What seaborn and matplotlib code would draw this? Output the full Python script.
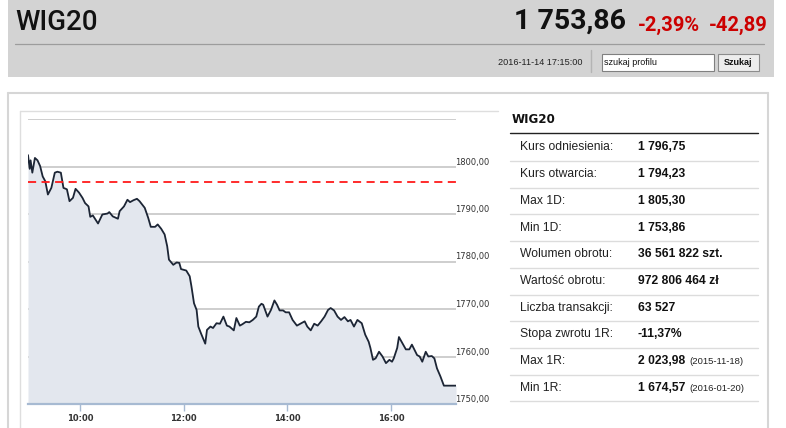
import numpy as np
import pandas as pd
import matplotlib
matplotlib.use('Agg')
import matplotlib.pyplot as plt
import seaborn as sns
from matplotlib import font_manager as fm
from matplotlib.patches import Rectangle
import matplotlib.transforms as mtransforms

# WIG20 intraday, 2016-11-14
times = [
    "09:00", "09:02", "09:03", "09:05", "09:08", "09:11", "09:14", "09:17", "09:20", "09:23",
    "09:27", "09:31", "09:34", "09:38", "09:41", "09:45", "09:48", "09:52", "09:55", "09:59",
    "10:03", "10:06", "10:10", "10:12", "10:15", "10:21", "10:26", "10:32", "10:34", "10:38",
    "10:44", "10:46", "10:51", "10:55", "10:58", "11:02", "11:06", "11:09", "11:15", "11:19",
    "11:22", "11:27", "11:30", "11:34", "11:38", "11:41", "11:43", "11:48", "11:52", "11:55",
    "11:57", "12:03", "12:07", "12:09", "12:12", "12:15", "12:17", "12:20", "12:25", "12:27",
    "12:31", "12:34", "12:38", "12:42", "12:46", "12:50", "12:53", "12:58", "13:01", "13:05",
    "13:08", "13:12", "13:16", "13:20", "13:24", "13:27", "13:30", "13:32", "13:37", "13:41",
    "13:45", "13:48", "13:51", "13:55", "13:58", "14:02", "14:06", "14:11", "14:16", "14:20",
    "14:23", "14:27", "14:31", "14:35", "14:39", "14:43", "14:47", "14:50", "14:54", "14:58",
    "15:02", "15:06", "15:10", "15:13", "15:17", "15:21", "15:26", "15:30", "15:34", "15:36",
    "15:39", "15:42", "15:46", "15:50", "15:54", "15:58", "16:01", "16:03", "16:07", "16:09",
    "16:13", "16:17", "16:21", "16:24", "16:27", "16:30", "16:33", "16:36", "16:40", "16:43",
    "16:47", "16:50", "16:53", "16:57", "17:01", "17:15",
]
prices = [
    1802.4, 1799.5, 1801.3, 1798.7, 1801.8, 1801.3, 1800.1, 1797.9, 1796.9, 1794.1,
    1795.5, 1798.7, 1798.9, 1798.7, 1795.5, 1795.2, 1792.7, 1793.4, 1795.3, 1794.5,
    1793.4, 1792.3, 1791.6, 1789.4, 1789.7, 1788.0, 1789.9, 1790.1, 1790.4, 1789.5,
    1789.0, 1790.6, 1791.6, 1793.0, 1792.5, 1792.9, 1793.2, 1792.7, 1791.3, 1789.2,
    1787.3, 1787.3, 1787.8, 1786.9, 1785.7, 1783.2, 1780.4, 1779.3, 1779.8, 1779.7,
    1778.4, 1778.1, 1776.9, 1774.8, 1771.2, 1769.8, 1766.3, 1764.9, 1762.7, 1765.6,
    1766.3, 1766.0, 1767.0, 1766.9, 1768.4, 1766.5, 1766.3, 1765.5, 1768.1, 1766.5,
    1766.8, 1767.3, 1767.2, 1767.7, 1768.4, 1770.5, 1771.1, 1770.9, 1768.4, 1769.8,
    1771.8, 1770.9, 1769.7, 1769.7, 1769.3, 1769.3, 1767.7, 1766.5, 1767.0, 1767.4,
    1766.3, 1765.5, 1766.9, 1766.5, 1767.4, 1768.4, 1769.8, 1770.2, 1769.7, 1768.4,
    1767.7, 1768.3, 1767.4, 1767.7, 1766.3, 1767.7, 1767.0, 1764.6, 1763.1, 1761.8,
    1759.3, 1759.6, 1761.0, 1760.0, 1758.6, 1759.3, 1758.9, 1759.6, 1761.8, 1764.1,
    1762.8, 1761.5, 1761.5, 1762.5, 1761.4, 1760.3, 1760.0, 1758.9, 1761.0, 1760.0,
    1760.1, 1759.6, 1757.5, 1755.8, 1753.86, 1753.86,
]
ref_price = 1796.75
y_grid = [1760, 1770, 1780, 1790, 1800, 1810]
y_labels = [1750, 1760, 1770, 1780, 1790, 1800]
x_ticks = ["10:00", "12:00", "14:00", "16:00"]
session = ["09:00", "17:15"]

# header
index_name = "WIG20"
last_txt = "1 753,86"
chg_pct_txt = "-2,39%"
chg_txt = "-42,89"
stamp_txt = "2016-11-14 17:15:00"

# side table
row_labels = ["Kurs odniesienia:", "Kurs otwarcia:", "Max 1D:", "Min 1D:", "Wolumen obrotu:",
              "Wartość obrotu:", "Liczba transakcji:", "Stopa zwrotu 1R:", "Max 1R:", "Min 1R:"]
row_values = ["1 796,75", "1 794,23", "1 805,30", "1 753,86", "36 561 822 szt.",
              "972 806 464 zł", "63 527", "-11,37%", "2 023,98", "1 674,57"]
row_notes = ["", "", "", "", "", "", "", "", "(2015-11-18)", "(2016-01-20)"]


def to_hours(s):
    h, m = s.split(":")
    return int(h) + int(m) / 60


def have_font(name):
    try:
        fm.findfont(fm.FontProperties(family=name), fallback_to_default=False)
        return True
    except Exception:
        return False


sns.set_style("white")
plt.rcParams['font.family'] = ['Liberation Sans', 'DejaVu Sans']

if have_font('Roboto'):
    head_font, big_size, red_size, name_size = 'Roboto', 20.5, 14.5, 20
else:
    head_font, big_size, red_size, name_size = 'DejaVu Sans', 16, 11.5, 18

df = pd.DataFrame({"time": times, "price": prices})
df["h"] = df["time"].map(to_hours)

W, H = 786, 428
fig = plt.figure(figsize=(W / 100, H / 100), dpi=100)

# background layer in pixel coordinates (y down)
bg = fig.add_axes([0, 0, 1, 1])
bg.set_xlim(0, W)
bg.set_ylim(H, 0)
bg.axis('off')

bg.add_patch(Rectangle((8, 0), 766, 77, fc='#d3d3d3', ec='none'))
bg.plot([15, 764], [44, 44], color='#9c9c9c', lw=0.9)
bg.plot([591, 591], [50, 72], color='#b4b4b4', lw=1)
bg.text(15, 30, index_name, family=head_font, fontsize=name_size, fontweight='medium',
        color='#111111', va='baseline')
t_chg = bg.text(768, 31, chg_txt, family=head_font, fontsize=red_size, fontweight='bold',
                color='#cc0000', ha='right', va='baseline')
t_pct = bg.annotate(chg_pct_txt, xy=(0, 0), xycoords=t_chg, xytext=(-7, 0), textcoords='offset points',
                    family=head_font, fontsize=red_size, fontweight='bold', color='#cc0000',
                    ha='right', va='bottom')
bg.annotate(last_txt, xy=(0, 0), xycoords=t_pct, xytext=(-8, 0), textcoords='offset points',
            family=head_font, fontsize=big_size, fontweight='bold', color='#111111',
            ha='right', va='bottom')
bg.text(582, 62, stamp_txt, fontsize=6.6, color='#222222', ha='right', va='center')
bg.add_patch(Rectangle((601.5, 53.5), 112, 17, fc='white', ec='#808080', lw=0.8))
bg.text(604, 62, "szukaj profilu", fontsize=6.5, color='#111111', va='center')
bg.add_patch(Rectangle((718, 53.5), 41, 17, fc='#ededed', ec='#8c8c8c', lw=0.8))
bg.text(738.5, 62, "Szukaj", fontsize=6.5, fontweight='bold', color='#111111', ha='center', va='center')

# frames
frame_c = '#d6d6d6'
bg.plot([8, 768], [93, 93], color=frame_c, lw=1.5)
bg.plot([8, 8], [93, H], color=frame_c, lw=1.5)
bg.plot([768, 768], [93, H], color=frame_c, lw=1.5)
bg.plot([20, 498], [111, 111], color='#dedede', lw=1)
bg.plot([20, 20], [111, H], color='#dedede', lw=1)

# side table
bg.text(512, 123, index_name, family='DejaVu Sans', fontsize=8.6, fontweight='bold',
        color='#111111', va='baseline')
bg.plot([510, 758], [133, 133], color='#222222', lw=1)
for i, (lab, val, note) in enumerate(zip(row_labels, row_values, row_notes)):
    yc = 147.5 + 26.7 * i
    bg.text(520, yc, lab, fontsize=8.7, color='#222222', va='center')
    tv = bg.text(638, yc, val, fontsize=8.7, fontweight='bold', color='#111111', va='center')
    if note:
        bg.annotate(note, xy=(1, 0), xycoords=tv, xytext=(3, 0.6), textcoords='offset points',
                    fontsize=6.8, color='#222222', va='bottom')
    bg.plot([510, 758], [161 + 26.7 * i, 161 + 26.7 * i], color='#dcdcdc', lw=1)

# chart
ax = fig.add_axes([28 / W, (H - 404) / H, (456 - 28) / W, (404 - 119) / H])
ax.set_facecolor('none')
x0, x1 = to_hours(session[0]), to_hours(session[1])
ax.set_xlim(x0, x1)
ax.set_ylim(1750, 1810)

for g in y_grid:
    ax.axhline(g, color='#c6c6c6', lw=1.2, zorder=1)

ax.fill_between(df["h"], df["price"], 1750, color='#e3e7ee', lw=0, zorder=2)
sns.lineplot(data=df, x="h", y="price", ax=ax, color='#1c2535', lw=1.3, zorder=4, sort=False)
ax.axhline(ref_price, color='#ff1a1a', lw=1.3, dashes=(4.5, 3), zorder=5)

for s in ['top', 'left', 'right']:
    ax.spines[s].set_visible(False)
ax.spines['bottom'].set_color('#a7bad2')
ax.spines['bottom'].set_linewidth(1.6)
ax.spines['bottom'].set_zorder(6)

ax.set_xticks([to_hours(t) for t in x_ticks])
ax.set_xticklabels(x_ticks)
ax.set_yticks([])
ax.tick_params(axis='x', direction='out', length=5, width=1, color='#a7bad2',
               labelsize=6, labelcolor='#333333', pad=2, bottom=True)
for lbl in ax.get_xticklabels():
    lbl.set_family('DejaVu Sans')
    lbl.set_fontweight('bold')
ax.set_xlabel("")
ax.set_ylabel("")

lab_tr = mtransforms.blended_transform_factory(ax.transAxes, ax.transData)
for v in y_labels:
    ax.text(0.999, v, f"{v},00", transform=lab_tr, family='DejaVu Sans', fontsize=6,
            color='#333333', va='bottom', ha='left', clip_on=False)

fig.savefig('out.png', dpi=100)
